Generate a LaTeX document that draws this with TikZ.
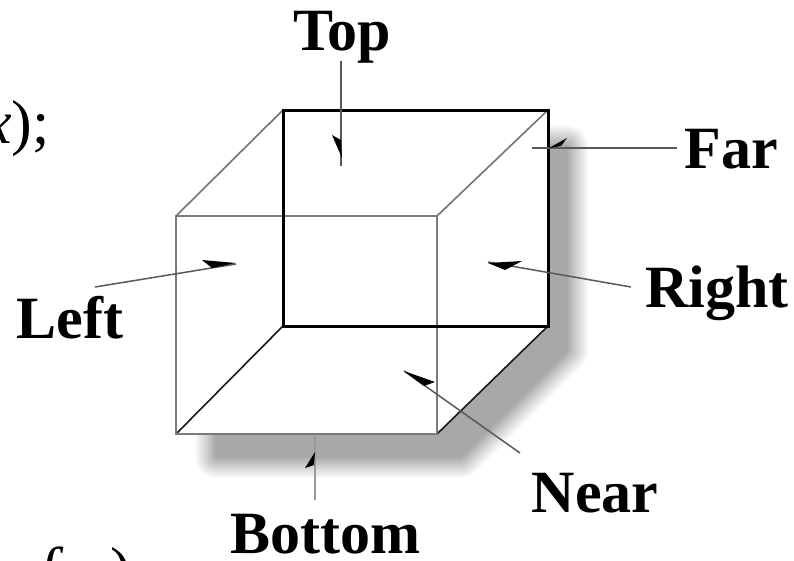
\documentclass[tikz,border=0pt]{standalone}
\usepackage{fontspec}
\setmainfont{Liberation Serif}
\begin{document}
\begin{tikzpicture}[x=1pt,y=-1pt,
  lbl/.style={font=\fontsize{60}{60}\selectfont\bfseries,inner sep=0pt,anchor=base,text=black},
  frontline/.style={draw=black!52,line width=2.4pt},
  backline/.style={draw=black,line width=3pt},
  gdiag/.style={draw=black!55,line width=1.6pt},
  kdiag/.style={draw=black!90,line width=1.6pt},
  lead/.style={draw=black!65,line width=1.5pt},
  tip/.style={fill=black,draw=none},
  cut/.style={font=\fontsize{62}{62}\selectfont,inner sep=0pt,anchor=base,text=black}]
\useasboundingbox (0,0) rectangle (794,560);
\clip (0,0) rectangle (794,560);
\fill[white] (0,0) rectangle (794,560);
% soft shadow
\foreach \w in {44,42,...,0}{
  \pgfmathsetmacro{\g}{34*(1-\w/44)}
  \filldraw[draw=black!\g,fill=black!\g,line width=\w pt,line join=round]
    (480,146) -- (567,146) -- (567,351) -- (461,457) -- (216,457) -- (216,400) -- cycle;
}
% box faces stay white
\fill[white] (283,110) -- (548,110) -- (548,326) -- (437,434) -- (176,434) -- (176,214) -- cycle;
% box
\coordinate (bnw) at (283,110); \coordinate (bne) at (548,110);
\coordinate (bse) at (548,326); \coordinate (bsw) at (283,326);
\coordinate (fnw) at (176,216); \coordinate (fne) at (437,216);
\coordinate (fse) at (437,434); \coordinate (fsw) at (176,434);
\draw[gdiag] (fnw) -- (bnw);
\draw[gdiag] (fne) -- (bne);
\draw[kdiag] (fsw) -- (bsw);
\draw[kdiag] (fse) -- (bse);
\draw[frontline] (fnw) -- (fne) -- (fse) -- (fsw) -- cycle;
\draw[backline] (bnw) -- (bne) -- (bse) -- (bsw) -- cycle;
% labels
\node[lbl] (top) at (342,50) {Top};
\node[lbl] (far) at (731,168) {Far};
\node[lbl] (right) at (717,307) {Right};
\node[lbl] (left) at (70,338) {Left};
\node[lbl] (near) at (595,512) {Near};
\node[lbl] (bottom) at (325,553) {Bottom};
% clipped text of the source page
\node[cut,anchor=base east] (frag) at (50,143) {\textit{x});};
\node[cut,anchor=base] (fragb) at (52,590) {\textit{f}};
\node[cut,anchor=base] (fragc) at (121,590) {)};
% leader lines
\coordinate (topE) at (341,61); \coordinate (topT) at (341,166);
\coordinate (farE) at (677,148); \coordinate (farT) at (532,148);
\coordinate (rightE) at (631,287); \coordinate (rightT) at (488,262);
\coordinate (leftE) at (95,287); \coordinate (leftT) at (236,264);
\coordinate (nearE) at (520,453); \coordinate (nearT) at (404,371);
\coordinate (botE) at (315,500); \coordinate (botT) at (315,436);
\draw[lead] (topE) -- (topT);
\draw[lead] (farE) -- (farT);
\draw[lead] (rightE) -- (rightT);
\draw[lead] (leftE) -- (leftT);
\draw[lead] (nearE) -- (nearT);
\draw[lead,draw=black!40] (botE) -- (botT);
% arrow slivers
\fill[tip] (341,140) -- (342,158) -- (332,135) -- cycle;
\fill[tip] (549,148) -- (567,138) -- (561,146) -- cycle;
\fill[tip] (488,263) -- (522,261) -- (505,270) -- cycle;
\fill[tip] (236,263) -- (202,260) -- (212,268) -- cycle;
\fill[tip] (404,371) -- (435,382) -- (424,386) -- cycle;
\fill[tip] (315,452) -- (314,465) -- (305,468) -- cycle;
\end{tikzpicture}
\end{document}
